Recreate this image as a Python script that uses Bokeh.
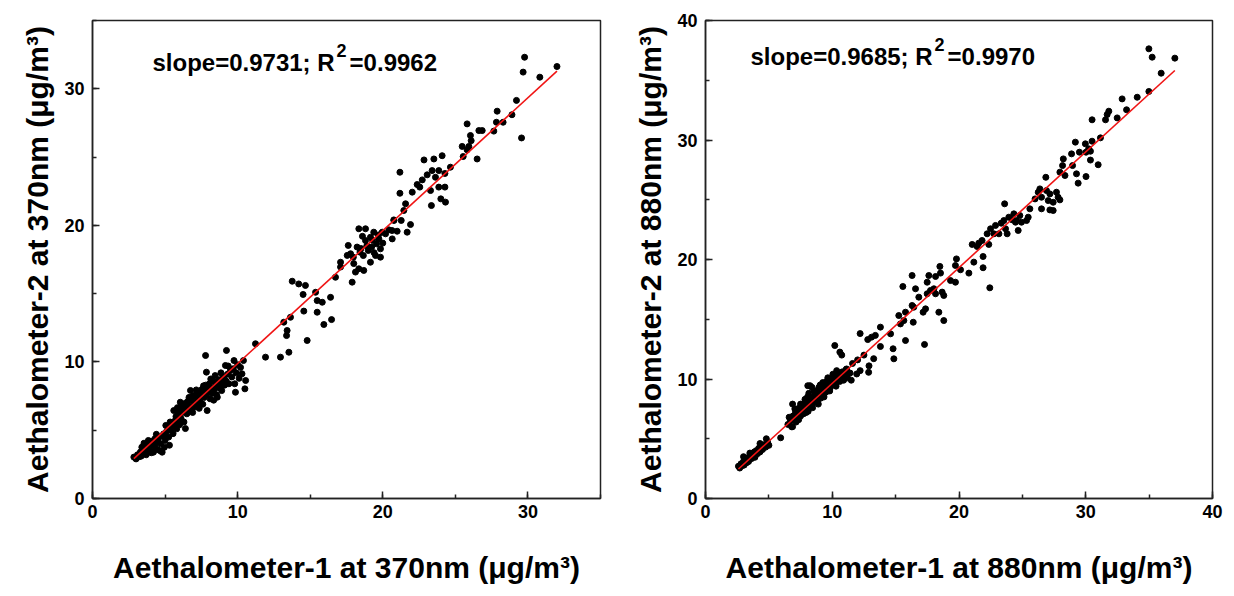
import math
from bokeh.plotting import figure
from bokeh.models import Range1d, SingleIntervalTicker, Label
from bokeh.layouts import row
from bokeh.embed import file_html
from bokeh.resources import INLINE

# ---------------- data ----------------
left_pts = [
    (2.85,3.03),(3.0,2.9),(3.1,3.2),(3.2,3.05),(3.3,3.4),(3.35,3.1),(3.4,3.76),(3.5,3.3),(3.6,3.55),(3.65,3.9),
    (3.7,3.2),(3.8,3.45),(3.85,4.25),(3.9,3.7),(4.0,3.95),(4.05,3.35),(4.1,4.2),(4.2,3.39),(4.25,3.8),(4.3,4.37),
    (4.35,4.05),(4.45,3.6),(4.5,4.3),(4.6,4.5),(4.65,3.5),(4.7,4.0),(4.8,3.39),(4.85,4.6),(4.9,4.73),(4.95,3.75),
    (5.0,4.25),(5.1,4.9),(5.2,5.2),(5.25,4.5),(5.3,3.9),(5.4,5.0),(5.5,5.45),(5.55,4.75),(5.6,6.44),(5.65,5.3),
    (5.7,5.71),(5.75,6.0),(5.8,5.1),(5.9,6.2),(5.95,5.6),(6.0,6.45),(6.05,7.05),(6.1,5.85),(6.2,6.3),(6.25,6.7),
    (6.3,5.6),(6.35,6.95),(6.4,5.12),(6.45,6.5),(6.5,6.2),(6.55,7.1),(6.6,6.8),(6.7,6.4),(6.75,7.91),(6.8,7.2),
    (6.85,6.6),(6.9,7.5),(7.0,7.0),(7.05,6.7),(7.1,7.6),(7.2,7.3),(7.25,6.9),(7.3,7.8),(7.4,7.1),(7.44,7.67),
    (7.5,7.45),(7.55,8.0),(7.6,6.9),(7.7,7.4),(7.75,7.9),(7.8,8.3),(7.85,7.6),(7.9,6.44),(7.9,8.15),(8.0,7.8),
    (8.05,8.4),(8.1,7.3),(8.2,8.1),(8.25,7.7),(8.3,8.6),(8.4,8.0),(8.5,8.3),(8.55,7.6),(8.6,8.4),(8.6,7.42),
    (8.7,8.7),(8.75,8.1),(8.8,8.45),(8.9,7.9),(9.0,8.9),(9.05,8.76),(9.1,8.3),(9.2,8.6),(9.3,9.1),(9.4,8.4),
    (9.5,9.37),(9.6,8.9),(9.7,9.5),(9.8,8.4),(9.85,7.78),(9.9,9.2),(10.0,9.8),(10.1,8.8),(10.2,9.6),(10.3,9.13),
    (10.5,8.03),(10.55,8.64),(10.4,10.1),(7.79,10.47),(9.23,10.84),(7.85,9.25),(9.16,9.74),
    (5.05,5.35),(6.15,6.9),(6.65,7.4),(7.15,7.95),(7.65,8.25),(8.15,8.75),(8.45,9.0),(8.85,9.2),(9.35,9.7),
    (9.75,10.1),(6.0,5.4),(6.9,6.3),(7.35,6.6),(8.35,7.2),(4.4,4.7),(3.55,4.05),(5.35,5.6),(5.85,6.65),
    (11.23,11.33),(11.92,10.35),(12.95,10.35),(13.53,10.71),(13.18,12.91),(13.41,12.3),(13.37,11.93),(13.64,13.27),
    (14.79,11.57),(14.56,13.72),(13.76,15.91),(14.21,15.71),(14.67,15.6),(14.51,14.94),(15.37,15.1),(15.48,14.49),
    (15.83,14.37),(16.4,14.73),(15.48,13.64),(15.94,12.74),(16.47,13.1),(16.74,16.2),
    (17.09,16.95),(17.09,17.3),(17.55,17.8),(17.62,18.53),(18.35,19.75),(18.81,19.75),(17.89,15.84),(18.12,16.58),
    (18.35,16.82),(18.69,16.7),(19.15,17.3),(19.38,19.5),(19.73,19.01),(19.84,17.67),(17.97,17.67),(18.43,18.04),
    (19.0,18.16),(19.23,18.41),(19.57,18.65),(18.81,18.89),(19.15,19.13),(19.84,18.28),(18.66,17.79),(17.78,17.92),
    (18.23,18.41),(19.5,17.79),(19.96,19.5),(20.19,19.38),(20.42,19.67),(20.65,19.01),(20.99,19.57),(20.77,20.36),
    (18.9,18.5),(19.3,18.9),(18.5,18.3),(19.7,19.3),(18.0,17.2),(20.0,18.7),(19.4,18.0),(18.6,19.2),
    (29.77,32.31),(29.67,31.22),(30.82,30.85),(32.0,31.63),(29.21,29.15),(29.56,26.4),(28.9,28.1),(27.88,28.36),
    (27.83,27.55),(28.29,27.55),(27.65,26.9),(25.81,27.43),(26.62,26.94),(26.85,26.94),(26.04,26.58),(26.09,26.2),
    (25.47,25.78),(25.93,25.78),(25.81,25.53),(25.54,25.04),(26.5,24.86),(24.09,25.1),(23.52,24.86),(22.84,24.79),
    (21.18,23.89),(24.66,24.26),(24.28,23.8),(23.86,24.01),(23.4,24.01),(23.63,23.52),(23.06,23.7),(22.72,23.33),
    (22.37,22.99),(22.55,22.8),(22.03,22.43),(21.18,22.35),(23.29,22.55),(23.86,22.8),(24.28,22.8),(24.0,21.94),
    (24.32,21.7),(23.35,21.45),(21.57,21.58),(21.45,21.09),(21.27,20.36),(20.76,20.4),(21.91,20.06),(21.68,19.5),
    (20.64,19.62),
]

right_pts = [
    (2.6,2.7),(2.7,2.55),(2.8,2.9),(2.9,2.75),(3.0,3.1),(3.05,2.8),(3.1,2.95),(3.2,3.25),(3.25,3.0),(3.3,3.3),
    (3.4,3.1),(3.45,3.5),(3.5,3.3),(3.6,3.6),(3.65,3.35),(3.7,3.75),(3.8,3.55),(3.85,3.9),(3.9,3.45),(4.0,4.0),
    (4.1,3.75),(4.2,4.2),(4.3,3.9),(4.4,4.3),(4.5,4.1),(4.6,4.5),(4.75,4.3),(4.9,4.7),(5.0,4.45),(3.0,3.5),
    (3.5,3.8),(4.3,4.6),(4.8,5.0),
    (6.5,6.2),(6.7,6.5),(6.8,6.0),(6.9,6.9),(7.0,6.6),(7.1,7.2),(7.2,6.8),(7.25,7.5),(7.3,7.0),(7.4,7.3),
    (7.5,7.9),(7.5,6.9),(7.6,7.4),(7.7,7.7),(7.75,7.1),(7.8,8.0),(7.9,7.5),(8.0,7.8),(8.05,8.5),(8.1,7.3),
    (8.2,8.1),(8.3,7.7),(8.35,8.4),(8.4,9.3),(8.5,8.0),(8.6,8.6),(8.7,8.2),(8.75,9.0),(8.8,8.5),(8.9,7.9),
    (9.0,8.8),(9.05,9.5),(9.1,8.4),(9.2,9.1),(9.3,8.7),(9.4,9.3),(9.5,8.9),(9.55,9.8),(9.6,9.2),(9.7,9.6),
    (9.8,9.0),(9.9,10.0),(10.0,9.5),(10.1,9.8),(10.2,10.3),(10.3,9.4),(10.4,10.1),(10.5,10.5),(10.6,9.8),(10.7,10.2),
    (10.8,10.6),(10.9,9.9),(11.0,10.4),(11.1,10.8),(11.2,10.1),(11.4,10.5),(11.5,9.9),(6.87,7.9),(8.07,9.44),(8.25,9.44),
    (6.87,6.01),(5.93,5.08),(10.2,12.8),(10.6,12.25),(10.75,12.0),(12.2,13.8),(12.2,10.7),(12.87,10.56),(12.9,11.1),
    (13.27,11.7),(13.4,13.65),(12.8,13.3),(13.1,13.5),(11.93,10.42),(11.13,10.84),(12.0,11.6),(12.5,12.0),(11.6,11.3),
    (7.05,7.5),(7.45,7.6),(7.85,8.3),(8.15,8.8),(8.55,9.0),(8.95,9.3),(9.25,9.7),(9.65,10.1),(10.05,10.4),(10.35,10.7),
    (7.35,6.6),(7.95,7.2),(8.45,7.6),(8.85,8.1),(9.35,8.5),(9.85,9.3),(10.25,9.6),(10.65,10.0),(6.6,6.8),(7.15,6.4),
    (13.8,14.34),(13.8,12.72),(14.6,13.78),(14.8,12.53),(14.86,11.69),(15.78,13.22),(15.25,15.31),(15.38,14.61),
    (15.65,14.89),(16.39,14.75),(16.3,16.15),(15.78,15.59),(17.28,12.89),(17.17,15.59),(17.36,15.87),(18.41,15.59),
    (18.8,14.89),(16.43,16.01),(16.83,16.85),(17.49,17.13),(17.75,17.41),(18.15,17.13),(18.02,17.55),(18.67,17.27),
    (18.8,16.99),(16.57,17.55),(15.57,17.74),(16.3,18.66),(17.49,18.1),(17.62,18.66),(18.15,18.58),(18.49,19.42),
    (18.54,18.86),(19.33,18.24),(19.72,18.1),(19.72,19.5),(19.8,20.05),(20.12,19.14),(20.78,18.86),(21.04,21.26),
    (21.17,19.78),(21.43,21.09),(21.56,21.37),(21.82,21.59),(21.9,20.25),(21.9,19.31),(22.43,17.63),(22.35,21.26),
    (22.22,22.15),(22.49,22.57),(22.88,22.85),(22.75,22.15),(23.15,22.15),(23.33,23.04),(23.6,24.66),(23.67,22.57),
    (23.8,22.15),(23.93,23.54),(23.54,23.26),(24.2,23.32),(24.46,23.12),(24.33,23.82),
    (34.98,37.63),(35.24,36.93),(37.03,36.85),(35.95,35.59),(34.98,34.06),(34.06,33.58),(32.87,33.44),(33.22,32.53),
    (31.82,32.41),(31.69,32.13),(31.56,31.69),(32.48,31.85),(30.5,31.69),(31.16,30.18),(30.5,29.9),(29.97,29.68),
    (29.18,29.82),(30.23,29.26),(30.37,29.06),(30.02,28.98),(29.5,28.98),(30.37,28.32),(30.98,27.93),(28.88,28.84),
    (28.23,28.42),(28.17,27.86),(28.96,27.86),(27.96,27.31),(28.36,27.03),(29.27,27.17),(29.4,26.39),(30.02,26.94),
    (26.85,26.88),(26.38,25.91),(26.25,25.63),(26.9,25.77),(27.17,25.49),(27.69,25.63),(27.82,25.21),(27.96,24.99),
    (27.43,24.79),(27.04,24.93),(26.51,25.21),(26.0,25.07),(26.51,24.24),(27.17,24.15),(27.43,24.1),(25.59,24.24),
    (25.46,23.54),(25.33,23.26),(24.8,23.68),(24.93,23.12),(24.54,23.26),(24.67,22.43),
]

left_x = [p[0] for p in left_pts]
left_y = [p[1] for p in left_pts]
right_x = [p[0] for p in right_pts]
right_y = [p[1] for p in right_pts]

left_fit = {"slope": 0.9731, "intercept": 0.15, "r2": 0.9962}
right_fit = {"slope": 0.9685, "intercept": -0.05, "r2": 0.9970}

left_xlabel = "Aethalometer-1 at 370nm (\u03bcg/m\u00b3)"
left_ylabel = "Aethalometer-2 at 370nm (\u03bcg/m\u00b3)"
right_xlabel = "Aethalometer-1 at 880nm (\u03bcg/m\u00b3)"
right_ylabel = "Aethalometer-2 at 880nm (\u03bcg/m\u00b3)"

FONT = "Liberation Sans"
BOLD_W = {'s':556,'l':278,'o':611,'p':611,'e':556,'=':584,'0':556,'.':278,'9':556,'7':556,'3':556,
          '1':556,';':333,' ':278,'R':722,'6':556,'8':556,'5':556,'2':556}


def tw(s, size):
    return sum(BOLD_W.get(c, 556) for c in s) / 1000.0 * size


def add_label(p, text, x, y, size, style="bold"):
    lab = Label(x=x, y=y, text=text, x_units="screen", y_units="screen")
    lab.text_font = FONT
    lab.text_font_size = f"{size}px"
    lab.text_font_style = style
    lab.text_color = "black"
    lab.text_align = "left"
    lab.text_baseline = "alphabetic"
    p.add_layout(lab)


def make_fig(xs, ys, fit, xmax, ymax, mleft, mright, xl, yl, slope_x, slope_y):
    p = figure(width=617, height=596, x_range=Range1d(0, xmax), y_range=Range1d(0, ymax),
               output_backend="svg", toolbar_location=None,
               min_border_left=mleft, min_border_right=mright, min_border_top=20, min_border_bottom=98)
    p.grid.visible = False
    p.background_fill_color = "white"
    p.border_fill_color = "white"
    p.outline_line_color = "#222222"
    p.outline_line_width = 1.5
    p.outline_line_alpha = 1.0
    for ax in (p.xaxis[0], p.yaxis[0]):
        ax.ticker = SingleIntervalTicker(interval=10, num_minor_ticks=2)
        ax.major_tick_in = 7
        ax.major_tick_out = 0
        ax.minor_tick_in = 4
        ax.minor_tick_out = 0
        ax.axis_line_width = 1.5
        ax.axis_line_color = "#222222"
        ax.major_tick_line_width = 1.5
        ax.major_tick_line_color = "#222222"
        ax.minor_tick_line_width = 1.5
        ax.minor_tick_line_color = "#222222"
        ax.major_label_text_font = FONT
        ax.major_label_text_font_style = "bold"
        ax.major_label_text_font_size = "18px"
        ax.major_label_text_color = "black"
        ax.axis_label_text_font = FONT
        ax.axis_label_text_font_style = "bold"
        ax.axis_label_text_font_size = "30px"
        ax.axis_label_text_color = "black"
    p.xaxis.major_label_standoff = 6
    p.yaxis.major_label_standoff = 8
    p.xaxis.axis_label = xl
    p.yaxis.axis_label = yl
    p.xaxis.axis_label_standoff = 30
    p.yaxis.axis_label_standoff = 7

    p.scatter(xs, ys, size=6, color="black")
    x0, x1 = min(xs), max(xs)
    p.line([x0, x1], [fit["slope"] * x0 + fit["intercept"], fit["slope"] * x1 + fit["intercept"]],
           line_color="#f01414", line_width=1.6)

    s1 = f"slope={fit['slope']:.4f}; R"
    s3 = f"={fit['r2']:.4f}"
    add_label(p, s1, slope_x, slope_y, 24)
    w1 = tw(s1, 24)
    add_label(p, "2", slope_x + w1 + 2, slope_y + 12, 18)
    add_label(p, s3, slope_x + w1 + 2 + tw("2", 18) + 3, slope_y, 24)
    return p


p1 = make_fig(left_x, left_y, left_fit, 35, 35, 92, 17, left_xlabel, left_ylabel, 60, 436)
p2 = make_fig(right_x, right_y, right_fit, 40, 40, 88, 22, right_xlabel, right_ylabel, 45, 442)

layout = row(p1, p2)
open("out.html", "w").write(file_html(layout, INLINE))
